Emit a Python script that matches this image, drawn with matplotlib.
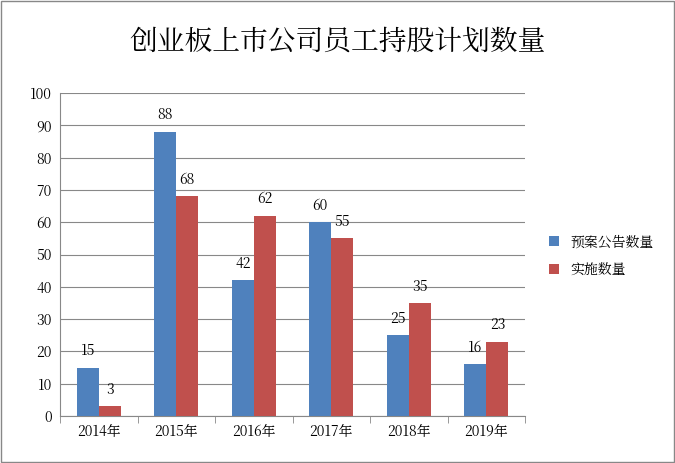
import numpy as np
import matplotlib.pyplot as plt
from matplotlib import font_manager

cjk = [f.name for f in font_manager.fontManager.ttflist if "CJK" in f.name]
cjk_pref = [n for n in cjk if "SC" in n] or cjk
plt.rcParams["font.family"] = (cjk_pref[:1] if cjk_pref else []) + ["DejaVu Sans"]

categories = ["2014年", "2015年", "2016年", "2017年", "2018年", "2019年"]
proposed = [15, 88, 42, 60, 25, 16]
implemented = [3, 68, 62, 55, 35, 23]
series_names = ["预案公告数量", "实施数量"]
title = "创业板上市公司员工持股计划数量"

fig = plt.figure(figsize=(6.75, 4.63), dpi=100)
ax = fig.add_axes([0.089, 0.1015, 0.689, 0.6975])

x = np.arange(len(categories))
w = 0.285
b1 = ax.bar(x - w / 2, proposed, w, color="#4F81BD", label=series_names[0], zorder=3)
b2 = ax.bar(x + w / 2, implemented, w, color="#C0504D", label=series_names[1], zorder=3)
ax.bar_label(b1, padding=6, fontsize=10)
ax.bar_label(b2, padding=6, fontsize=10)

ax.set_xlim(-0.5, len(categories) - 0.5)
ax.set_ylim(0, 100)
ax.set_yticks(range(0, 101, 10))
ax.set_xticks(x, categories)
ax.tick_params(labelsize=10, length=0, pad=6)
ax.set_xticks(np.arange(len(categories) + 1) - 0.5, minor=True)
ax.tick_params(axis="x", which="minor", length=5, color="#888888")
ax.tick_params(axis="x", which="major", length=0)
ax.yaxis.grid(True, color="#888888", linewidth=0.8, zorder=0)
for s in ["top", "right"]:
    ax.spines[s].set_visible(False)
for s in ["left", "bottom"]:
    ax.spines[s].set_color("#888888")

fig.text(0.5, 0.91, title, ha="center", va="center", fontsize=20)
fig.legend(loc="center left", bbox_to_anchor=(0.795, 0.447), frameon=False, fontsize=10,
           handlelength=0.7, handleheight=0.7, labelspacing=0.9)

border = plt.Rectangle((0.002, 0.002), 0.996, 0.996, transform=fig.transFigure,
                       fill=False, edgecolor="#888888", linewidth=1)
fig.patches.append(border)

fig.savefig("out.png", dpi=100)
